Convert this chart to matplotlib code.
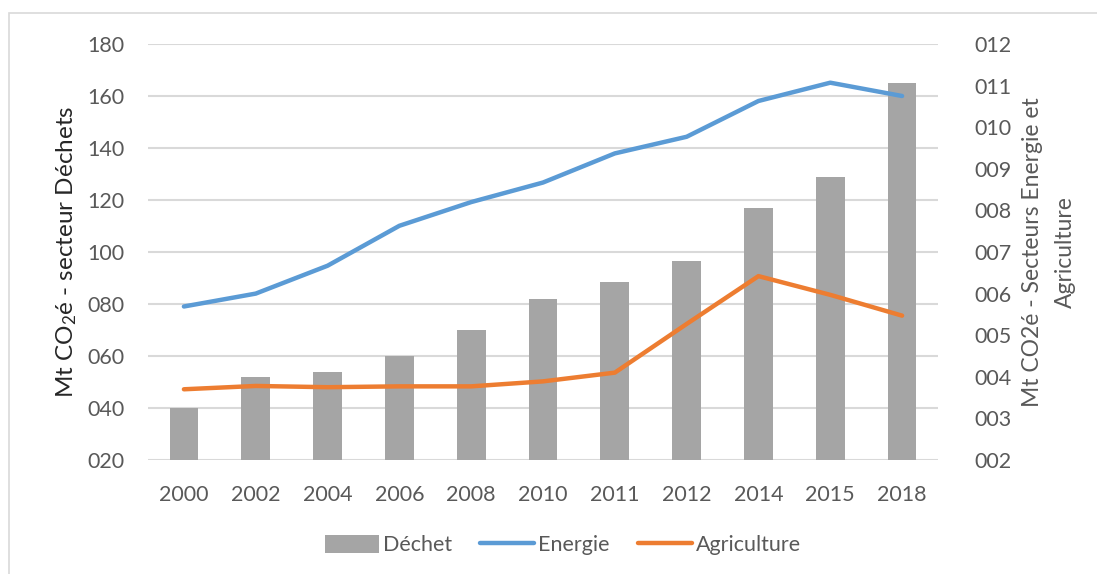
import numpy as np
import matplotlib.pyplot as plt
from matplotlib.patches import Rectangle
from matplotlib.lines import Line2D
from matplotlib.patches import Patch
from matplotlib.ticker import FuncFormatter

plt.rcParams['font.family'] = ['Lato', 'DejaVu Sans']
plt.rcParams['mathtext.fontset'] = 'custom'
plt.rcParams['mathtext.rm'] = 'Lato'
plt.rcParams['mathtext.it'] = 'Lato'

years = ["2000", "2002", "2004", "2006", "2008", "2010", "2011", "2012", "2014", "2015", "2018"]
dechet = [40, 52, 54, 60, 70, 82, 88.5, 96.5, 117, 129, 165]
energie = [5.69, 6.0, 6.67, 7.63, 8.2, 8.67, 9.37, 9.77, 10.63, 11.07, 10.75]
agriculture = [3.70, 3.78, 3.75, 3.77, 3.77, 3.89, 4.10, 5.27, 6.42, 5.97, 5.47]

TXT = "#595959"
GRID = "#d9d9d9"
GREY = "#a5a5a5"
BLUE = "#5b9bd5"
ORANGE = "#ed7d31"

fig = plt.figure(figsize=(10.97, 5.74), dpi=100)
# chart frame
fig.patches.append(Rectangle((9 / 1097, -0.05), 1.1, 1 - 13 / 574 + 0.05,
                             transform=fig.transFigure, fill=False,
                             edgecolor=GRID, linewidth=1.2))

ax = fig.add_axes([148 / 1097, 1 - 460 / 574, (938 - 148) / 1097, (460 - 44) / 574])
x = np.arange(len(years))
ax.bar(x, dechet, width=0.4, color=GREY, zorder=2)
ax.set_xlim(-0.5, len(years) - 0.5)
ax.set_ylim(20, 180)
ax.set_yticks(np.arange(20, 181, 20))
ax.yaxis.set_major_formatter(FuncFormatter(lambda v, p: f"{int(round(v)):03d}"))
ax.set_xticks(x)
ax.set_xticklabels(years)
ax.grid(axis="y", color=GRID, linewidth=1.5, zorder=0)
ax.set_axisbelow(True)
for s in ax.spines.values():
    s.set_visible(False)
ax.tick_params(axis="both", length=0, labelsize=15.5, colors=TXT)
ax.tick_params(axis="y", pad=17)
ax.tick_params(axis="x", pad=18)
ax.set_ylabel(r"Mt CO$_2$é - secteur Déchets", fontsize=17.5, color="#262626", labelpad=6)

ax2 = ax.twinx()
ax2.plot(x, energie, color=BLUE, linewidth=3.2, solid_capstyle="round", solid_joinstyle="round")
ax2.plot(x, agriculture, color=ORANGE, linewidth=3.2, solid_capstyle="round", solid_joinstyle="round")
ax2.set_ylim(2, 12)
ax2.set_yticks(np.arange(2, 13, 1))
ax2.yaxis.set_major_formatter(FuncFormatter(lambda v, p: f"{int(round(v)):03d}"))
for s in ax2.spines.values():
    s.set_visible(False)
ax2.tick_params(axis="y", length=0, labelsize=15.5, colors=TXT, pad=26)
ax2.set_ylabel("Mt CO2é - Secteurs Energie et\nAgriculture", fontsize=16.5, color=TXT,
               labelpad=8, linespacing=1.65, multialignment="center")

handles = [Patch(facecolor=GREY, edgecolor="none", label="Déchet"),
           Line2D([0], [0], color=BLUE, linewidth=3.2, solid_capstyle="round", label="Energie"),
           Line2D([0], [0], color=ORANGE, linewidth=3.2, solid_capstyle="round", label="Agriculture")]
fig.legend(handles=handles, loc="center", bbox_to_anchor=(563 / 1097, 1 - 545 / 574),
           ncol=3, frameon=False, fontsize=15.5, labelcolor=TXT, handlelength=2.5,
           handletextpad=0.2, columnspacing=1.3, handleheight=0.9)

fig.savefig("out.png", dpi=100)
